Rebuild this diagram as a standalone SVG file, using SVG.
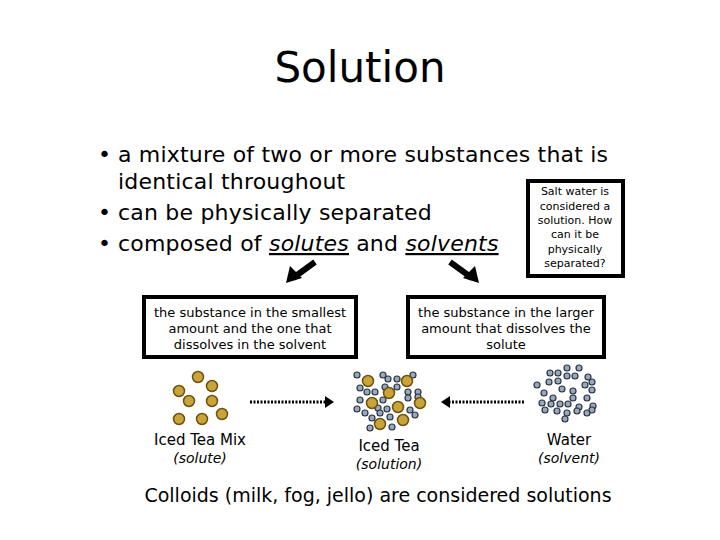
<svg xmlns="http://www.w3.org/2000/svg" width="720" height="540" viewBox="0 0 720 540">
<style>
text{font-family:"DejaVu Sans","Liberation Sans",sans-serif;fill:#000}
.b{font-size:22px;letter-spacing:0.2px}
.s{font-size:13px}
.box{fill:#fff;stroke:#000;stroke-width:4}
.u{fill:#c9a43a;stroke:#6b5210;stroke-width:1.5}
.v{fill:#9aa8bc;stroke:#2a3444;stroke-width:1.2}
.d{stroke:#000;stroke-width:3;stroke-dasharray:2 1.5}
</style>
<rect width="720" height="540" fill="#fff"/>
<text x="360" y="82" text-anchor="middle" font-size="42">Solution</text>
<g id="bullets" class="b">
<text x="98" y="162">•</text><text x="118" y="162">a mixture of two or more substances that is</text>
<text x="118" y="189">identical throughout</text>
<text x="98" y="220">•</text><text x="118" y="220">can be physically separated</text>
<text x="98" y="251">•</text><text x="118" y="251">composed of <tspan text-decoration="underline" font-style="italic">solutes</tspan> and <tspan text-decoration="underline" font-style="italic">solvents</tspan></text>
</g>
<g id="note">
<rect class="box" x="528" y="181" width="95" height="95"/>
<text text-anchor="middle" font-size="11"><tspan x="575" y="195">Salt water is</tspan><tspan x="575" y="210">considered a</tspan><tspan x="575" y="224">solution. How</tspan><tspan x="575" y="238">can it be</tspan><tspan x="575" y="253">physically</tspan><tspan x="575" y="267">separated?</tspan></text>
</g>
<g id="connectors">
<path d="M315,262L293,278" stroke="#000" stroke-width="6"/>
<path d="M286,283l4,-17l12,12z" fill="#000"/>
<path d="M450,262L472,278" stroke="#000" stroke-width="6"/>
<path d="M479,283l-4,-17l-12,12z" fill="#000"/>
<line class="d" x1="250" y1="402" x2="326" y2="402"/>
<path d="M325,396l9,6l-9,6z" fill="#000"/>
<line class="d" x1="524" y1="402" x2="449" y2="402"/>
<path d="M450,396l-9,6l9,6z" fill="#000"/>
</g>
<g id="solute-box">
<rect class="box" x="144" y="297" width="212" height="60"/>
<text class="s" text-anchor="middle"><tspan x="250" y="317">the substance in the smallest</tspan><tspan x="250" y="333">amount and the one that</tspan><tspan x="250" y="349">dissolves in the solvent</tspan></text>
</g>
<g id="solvent-box">
<rect class="box" x="408" y="297" width="196" height="60"/>
<text class="s" text-anchor="middle"><tspan x="506" y="317">the substance in the larger</tspan><tspan x="506" y="333">amount that dissolves the</tspan><tspan x="506" y="349">solute</tspan></text>
</g>
<g id="solute">
<circle class="u" cx="198" cy="377" r="5.5"/><circle class="u" cx="212" cy="386" r="5.5"/><circle class="u" cx="179" cy="391" r="5.5"/><circle class="u" cx="189" cy="401" r="5.5"/><circle class="u" cx="212" cy="401" r="5.5"/><circle class="u" cx="222" cy="414" r="5.5"/><circle class="u" cx="179" cy="419" r="5.5"/><circle class="u" cx="202" cy="419" r="5.5"/>
<text x="200" y="445" text-anchor="middle" font-size="15">Iced Tea Mix</text>
<text x="200" y="463" text-anchor="middle" font-size="14" font-style="italic">(solute)</text>
</g>
<g id="solution">
<circle class="v" cx="357" cy="375" r="3"/><circle class="v" cx="383" cy="375" r="3"/><circle class="v" cx="388" cy="379" r="3"/><circle class="v" cx="397" cy="379" r="3"/><circle class="v" cx="413" cy="375" r="3"/><circle class="v" cx="360" cy="388" r="3"/><circle class="v" cx="367" cy="392" r="3"/><circle class="v" cx="375" cy="392" r="3"/><circle class="v" cx="385" cy="387" r="3"/><circle class="v" cx="397" cy="387" r="3"/><circle class="v" cx="408" cy="392" r="3"/><circle class="v" cx="418" cy="392" r="3"/><circle class="v" cx="360" cy="400" r="3"/><circle class="v" cx="383" cy="400" r="3"/><circle class="v" cx="408" cy="398" r="3"/><circle class="v" cx="418" cy="397" r="3"/><circle class="v" cx="357" cy="409" r="3"/><circle class="v" cx="365" cy="413" r="3"/><circle class="v" cx="378" cy="408" r="3"/><circle class="v" cx="387" cy="409" r="3"/><circle class="v" cx="410" cy="410" r="3"/><circle class="v" cx="415" cy="415" r="3"/><circle class="v" cx="372" cy="418" r="3"/><circle class="v" cx="390" cy="417" r="3"/><circle class="v" cx="380" cy="413" r="3"/><circle class="v" cx="370" cy="428" r="3"/><circle class="v" cx="392" cy="427" r="3"/>
<circle class="u" cx="368" cy="381" r="5.5"/><circle class="u" cx="407" cy="381" r="5.5"/><circle class="u" cx="389" cy="393" r="5.5"/><circle class="u" cx="372" cy="403" r="5.5"/><circle class="u" cx="398" cy="407" r="5.5"/><circle class="u" cx="420" cy="403" r="5.5"/><circle class="u" cx="380" cy="424" r="5.5"/><circle class="u" cx="403" cy="420" r="5.5"/>
<text x="389" y="451" text-anchor="middle" font-size="15">Iced Tea</text>
<text x="389" y="469" text-anchor="middle" font-size="14" font-style="italic">(solution)</text>
</g>
<g id="solvent">
<circle class="v" cx="537" cy="385" r="3"/><circle class="v" cx="550" cy="373" r="3"/><circle class="v" cx="558" cy="373" r="3"/><circle class="v" cx="567" cy="368" r="3"/><circle class="v" cx="579" cy="368" r="3"/><circle class="v" cx="549" cy="382" r="3"/><circle class="v" cx="558" cy="381" r="3"/><circle class="v" cx="567" cy="376" r="3"/><circle class="v" cx="575" cy="376" r="3"/><circle class="v" cx="588" cy="377" r="3"/><circle class="v" cx="592" cy="382" r="3"/><circle class="v" cx="544" cy="393" r="3"/><circle class="v" cx="562" cy="389" r="3"/><circle class="v" cx="573" cy="391" r="3"/><circle class="v" cx="585" cy="385" r="3"/><circle class="v" cx="592" cy="390" r="3"/><circle class="v" cx="553" cy="398" r="3"/><circle class="v" cx="573" cy="398" r="3"/><circle class="v" cx="587" cy="398" r="3"/><circle class="v" cx="542" cy="403" r="3"/><circle class="v" cx="551" cy="404" r="3"/><circle class="v" cx="560" cy="404" r="3"/><circle class="v" cx="568" cy="404" r="3"/><circle class="v" cx="579" cy="407" r="3"/><circle class="v" cx="593" cy="406" r="3"/><circle class="v" cx="545" cy="410" r="3"/><circle class="v" cx="557" cy="411" r="3"/><circle class="v" cx="567" cy="413" r="3"/><circle class="v" cx="577" cy="411" r="3"/><circle class="v" cx="587" cy="413" r="3"/><circle class="v" cx="592" cy="410" r="3"/><circle class="v" cx="565" cy="419" r="3"/>
<text x="569" y="445" text-anchor="middle" font-size="15">Water</text>
<text x="569" y="463" text-anchor="middle" font-size="14" font-style="italic">(solvent)</text>
</g>
<text x="378" y="502" text-anchor="middle" font-size="19">Colloids (milk, fog, jello) are considered solutions</text>
</svg>
